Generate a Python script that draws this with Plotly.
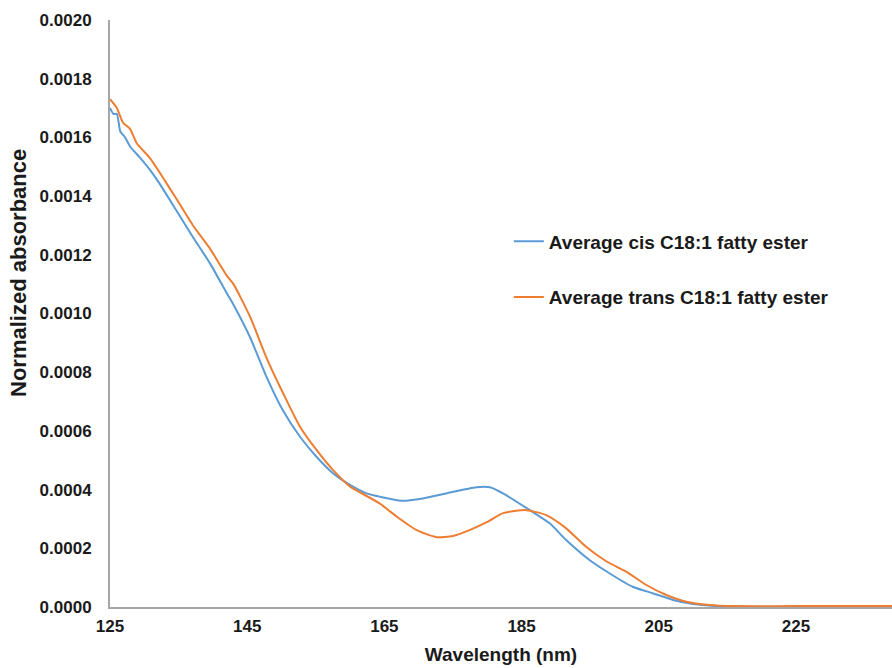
import plotly.graph_objects as go

# Average cis C18:1 fatty ester
cis_wavelength = [125.0, 125.5, 126.0, 126.5, 127.2, 127.9, 129.4, 130.8, 132.3, 134.7,
                  137.1, 139.6, 142.0, 143.0, 145.4, 147.8, 150.2, 152.7, 155.1, 157.5,
                  160.0, 162.4, 164.3, 167.5, 170.6, 174.0, 178.4, 180.4, 182.3, 186.2,
                  189.1, 191.5, 194.9, 197.8, 201.2, 204.1, 207.1, 210.0, 213.4, 220.0,
                  230.0, 240.0]
cis_absorbance = [0.00170, 0.00168, 0.00168, 0.00162, 0.00160, 0.00157, 0.00153, 0.00149, 0.00144, 0.00135,
                  0.00126, 0.00117, 0.00107, 0.00103, 0.00092, 0.000785, 0.00067, 0.00058, 0.000512, 0.000456,
                  0.000416, 0.000387, 0.000376, 0.000362, 0.00037, 0.000387, 0.000408, 0.000408, 0.000387, 0.00033,
                  0.000285, 0.000228, 0.00016, 0.000115, 0.000069, 0.000047, 0.000024, 0.00001, 0.000003, 0.000001,
                  0.000001, 0.000001]

# Average trans C18:1 fatty ester
trans_wavelength = [125.0, 126.0, 126.9, 127.9, 128.9, 130.8, 132.8, 134.7, 137.1, 139.6,
                    142.0, 143.0, 145.4, 147.8, 150.2, 152.7, 155.1, 157.5, 160.0, 161.5,
                    164.3, 166.8, 169.7, 172.6, 175.0, 177.4, 180.0, 182.3, 185.7, 188.6,
                    191.5, 194.4, 197.4, 200.3, 203.2, 206.1, 209.0, 212.4, 215.8, 225.0,
                    240.0]
trans_absorbance = [0.00173, 0.00170, 0.00165, 0.00163, 0.00158, 0.00153, 0.00146, 0.00139, 0.00130, 0.00122,
                    0.00113, 0.00110, 0.00099, 0.00085, 0.00073, 0.000614, 0.000535, 0.000467, 0.00041, 0.00039,
                    0.000353, 0.000308, 0.000262, 0.000238, 0.000242, 0.000262, 0.00029, 0.00032, 0.00033, 0.000313,
                    0.000268, 0.000205, 0.000155, 0.00012, 0.000075, 0.000041, 0.000018, 0.000007, 0.000003, 0.000003,
                    0.000003]

x_ticks = [125, 145, 165, 185, 205, 225]
y_ticks = [0.0, 0.0002, 0.0004, 0.0006, 0.0008, 0.0010, 0.0012, 0.0014, 0.0016, 0.0018, 0.0020]
y_title = "Normalized absorbance"

FONT = "Liberation Sans, Arial, sans-serif"

fig = go.Figure()
fig.add_trace(go.Scatter(x=cis_wavelength, y=cis_absorbance, mode="lines",
                         name="Average cis C18:1 fatty ester", legendgroup="a",
                         line=dict(color="#5B9BD5", width=2, shape="spline", smoothing=0.6)))
fig.add_trace(go.Scatter(x=trans_wavelength, y=trans_absorbance, mode="lines",
                         name="Average trans C18:1 fatty ester", legendgroup="b",
                         line=dict(color="#ED7D31", width=2, shape="spline", smoothing=0.6)))

fig.update_layout(
    width=892, height=668,
    margin=dict(l=110, r=0, t=20, b=61),
    paper_bgcolor="white", plot_bgcolor="white",
    font=dict(family=FONT, size=17, color="#1a1a1a"),
    legend=dict(x=0.51, y=0.655, xanchor="left", yanchor="top",
                bgcolor="rgba(0,0,0,0)", tracegroupgap=28,
                traceorder="grouped", itemwidth=30,
                font=dict(family=FONT, size=19, color="#1a1a1a", weight="bold")),
    showlegend=True,
)
fig.add_annotation(text=y_title, textangle=-90, xref="paper", yref="paper",
                   x=-0.1164, y=0.569, xanchor="center", yanchor="middle", showarrow=False,
                   font=dict(family=FONT, size=22, color="#1a1a1a", weight="bold"))
fig.update_xaxes(
    range=[125, 239], tickvals=x_ticks, ticktext=[str(v) for v in x_ticks],
    showgrid=False, zeroline=False, showline=True, linecolor="#A6A6A6", linewidth=2,
    ticks="outside", ticklen=3, tickcolor="rgba(0,0,0,0)",
    tickfont=dict(family=FONT, size=17, weight="bold"),
    title=dict(text="Wavelength (nm)", font=dict(family=FONT, size=19, weight="bold"), standoff=12),
)
fig.update_yaxes(
    range=[0, 0.0020], tickvals=y_ticks, ticktext=[f"{v:.4f}" for v in y_ticks],
    showgrid=False, zeroline=False, showline=True, linecolor="#A6A6A6", linewidth=2,
    ticks="outside", ticklen=13, tickcolor="rgba(0,0,0,0)",
    tickfont=dict(family=FONT, size=17, weight="bold"),
)

fig.write_html("out.html")
